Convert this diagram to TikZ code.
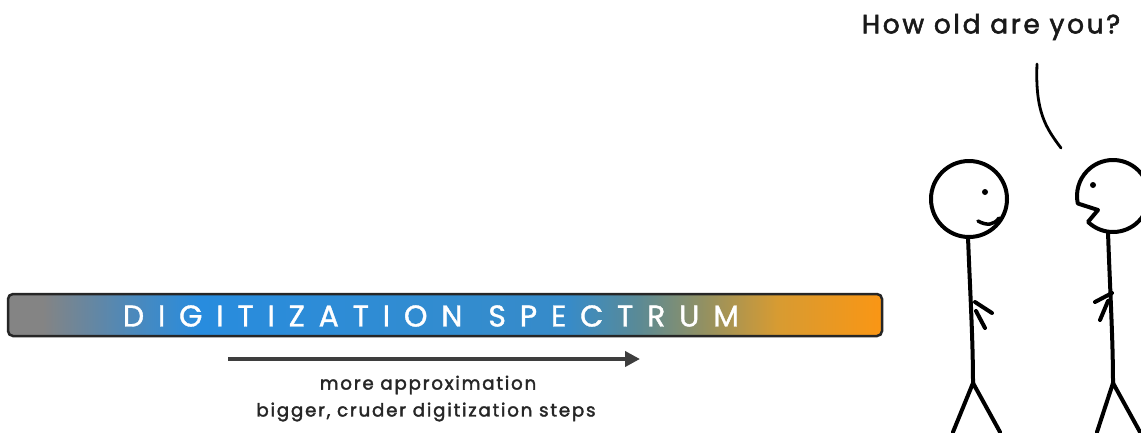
\documentclass[tikz,border=0pt]{standalone}
\usepackage{fontspec}
\setmainfont{Poppins}
\newfontfamily\titlefont[LetterSpace=46, FakeBold=1.2]{Poppins}
\newfontfamily\handfont[LetterSpace=10, FakeBold=2]{Poppins}
\usetikzlibrary{arrows.meta}

\definecolor{sgray}{RGB}{132,132,132}
\definecolor{sblue}{RGB}{40,140,222}
\definecolor{steal}{RGB}{90,138,150}
\definecolor{solive}{RGB}{150,145,95}
\definecolor{sgold}{RGB}{215,155,50}
\definecolor{sorange}{RGB}{250,150,20}
\definecolor{arrowgray}{RGB}{62,62,62}

% spectrum colours; the bar maps onto 25bp..75bp of the shading
\pgfdeclarehorizontalshading{spectrum}{100bp}{%
  color(0bp)=(sgray); color(27bp)=(sgray); color(32bp)=(sblue!60!sgray); color(36bp)=(sblue);
  color(57bp)=(sblue!70!steal); color(61bp)=(steal); color(65bp)=(solive);
  color(69bp)=(sgold); color(75bp)=(sorange); color(100bp)=(sorange)}

\tikzset{
  stick/.style={line width=4pt, line cap=round, line join=round, black},
  spectrumbar/.style={draw=black!85, line width=2.5pt, rounded corners=5pt, shading=spectrum},
  caption/.style={font=\handfont\fontsize{18.2}{20}\selectfont, text=black!85, align=center},
}

\begin{document}
\begin{tikzpicture}[x=1pt, y=-1pt]
  \clip (0,0) rectangle (1141,432);
  \fill[white] (0,0) rectangle (1141,432);

  % the spectrum bar
  \path[spectrumbar] (8,294) rectangle (882,336);
  \node[text=white, font=\titlefont\fontsize{30}{32}\selectfont] (title) at (431,316) {DIGITIZATION\hspace{26pt}SPECTRUM};

  % direction arrow and its caption
  \coordinate (arrowstart) at (228,359);
  \coordinate (arrowend) at (640,359);
  \draw[arrowgray, line width=4.5pt, -{Triangle[length=15pt, width=15pt]}] (arrowstart) -- (arrowend);
  \node[caption] (cap1) at (428,385) {more approximation};
  \node[caption] (cap2) at (426,412) {bigger, cruder digitization steps};

  % speech
  \node[font=\handfont\fontsize{26.5}{29}\selectfont, text=black!90] (speech) at (991,27) {How old are you?};
  \draw[line width=2.8pt, line cap=round] (1037,64) .. controls (1035,112) and (1046,128) .. (1061,148);

  % left figure
  \draw[stick] (969,199) circle[radius=38];
  \fill (985,192) circle[radius=3];
  \draw[line width=3.5pt, line cap=round] (978,221) .. controls (987,226) and (994,225) .. (999,218);
  \draw[stick] (968,237) .. controls (970,290) and (973,340) .. (973,383);
  \draw[stick] (975,302) -- (992,313);
  \draw[stick] (976,311) -- (985,328);
  \draw[stick] (953,432) -- (973,383) -- (1000,432);

  % right figure, mouth open to the left
  \draw[stick] (1113,196) ++(134:36) arc[start angle=134, end angle=-192, radius=36] -- (1098,210) -- cycle;
  \fill (1093,185) circle[radius=3];
  \draw[stick] (1108,232) .. controls (1110,290) and (1113,340) .. (1113,383);
  \draw[stick] (1112,293) -- (1095,302);
  \draw[stick] (1108,301) -- (1100,320);
  \draw[stick] (1097,432) -- (1113,383) -- (1140,432);
\end{tikzpicture}
\end{document}
